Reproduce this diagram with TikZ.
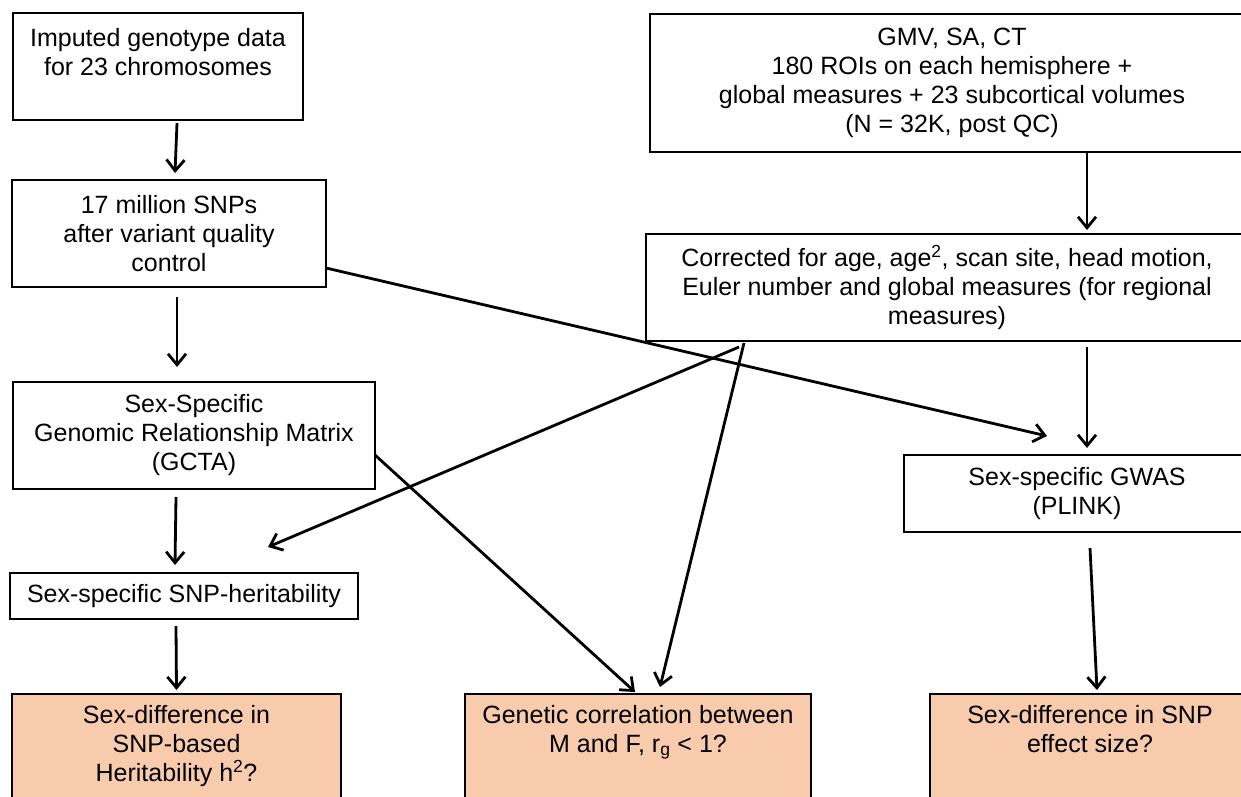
\documentclass[tikz,border=0pt]{standalone}
\usepackage{fontspec}
\setmainfont{Liberation Sans}
\usetikzlibrary{arrows.meta, positioning}
\definecolor{peach}{HTML}{F8CBAD}

\begin{document}
\begin{tikzpicture}[x=1pt, y=-1pt, node distance=60pt]

% --- Define Styles ---
\tikzstyle{box} = [rectangle, draw=black, line width=2.2pt, outer sep=0pt, align=center, font=\fontsize{25}{29}\selectfont]
\tikzstyle{question} = [box, fill=peach, inner ysep=11pt]
\tikzstyle{arrow} = [line width=2.8pt, -{Straight Barb[length=11pt, width=18pt]}]

\useasboundingbox (0,0) rectangle (1241,797);
\clip (0,0) rectangle (1241,797);

% --- Genotype side ---
\node (geno) [box, minimum width=290pt, minimum height=107pt] at (158,66.5) {Imputed genotype data\\for 23 chromosomes\\~};
\node (snps) [box, minimum width=314pt, minimum height=107pt, below=60pt of geno, xshift=11pt] {17 million SNPs\\after variant quality\\control};
\node (grm) [box, minimum width=362pt, minimum height=107pt, below=95pt of snps, xshift=25pt] {Sex-Specific\\Genomic Relationship Matrix\\(GCTA)};
\node (herit) [box, minimum width=348pt, minimum height=46pt, below=84pt of grm, xshift=-10pt] {Sex-specific SNP-heritability};

% --- Imaging side ---
\node (gmv) [box, minimum width=604pt, minimum height=138pt] at (952,83) {GMV, SA, CT\\180 ROIs on each hemisphere +\\global measures + 23 subcortical volumes\\(N = 32K, post QC)};
\node (corr) [box, minimum width=602pt, minimum height=107pt, below=82pt of gmv, xshift=-5pt] {Corrected for age, age\textsuperscript{2}, scan site, head motion,\\Euler number and global measures (for regional\\measures)};
\node (gwas) [box, minimum width=346pt, minimum height=77pt, below=114pt of corr, xshift=130pt] {Sex-specific GWAS\\(PLINK)};

% --- Questions ---
\node (dh2) [question, minimum width=329pt, below=75pt of herit, xshift=-7.5pt] {Sex-difference in\\SNP-based\\Heritability h\textsuperscript{2}?\\~};
\node (rg) [question, minimum width=346pt, right=124pt of dh2] {Genetic correlation between\\M and F, r\textsubscript{g} < 1?\\~\\~};
\node (eff) [question, minimum width=320pt, below=162pt of gwas, xshift=13pt] {Sex-difference in SNP\\effect size?\\~\\~};

% --- Arrows ---
\draw [arrow] ([xshift=19pt, yshift=-3pt]geno.south) -- ([xshift=6pt, yshift=7pt]snps.north);
\draw [arrow] ([xshift=8pt, yshift=-10pt]snps.south) -- ([xshift=-17pt, yshift=15pt]grm.north);
\draw [arrow] ([xshift=-18pt, yshift=-8pt]grm.south) -- ([xshift=-9pt, yshift=8pt]herit.north);
\draw [arrow] ([xshift=-8pt, yshift=-7pt]herit.south) -- ([yshift=4pt]dh2.north);
\draw [arrow] ([xshift=135pt, yshift=-1pt]gmv.south) -- ([xshift=140pt, yshift=4pt]corr.north);
\draw [arrow] ([xshift=140pt, yshift=-6pt]corr.south) -- ([xshift=10pt, yshift=7pt]gwas.north);
\draw [arrow] ([xshift=13pt, yshift=-16pt]gwas.south) -- ([xshift=7pt, yshift=4pt]eff.north);
\draw [arrow] ([yshift=-34.5pt]snps.east) -- ([xshift=-30pt, yshift=19pt]gwas.north);
\draw [arrow] ([xshift=-208pt, yshift=-6pt]corr.south) -- ([xshift=84pt, yshift=26pt]herit.north);
\draw [arrow] ([yshift=-19.5pt]grm.east) -- ([xshift=-3pt, yshift=2pt]rg.north);
\draw [arrow] ([xshift=-203pt, yshift=-2pt]corr.south) -- ([xshift=22pt, yshift=7pt]rg.north);

\end{tikzpicture}
\end{document}
